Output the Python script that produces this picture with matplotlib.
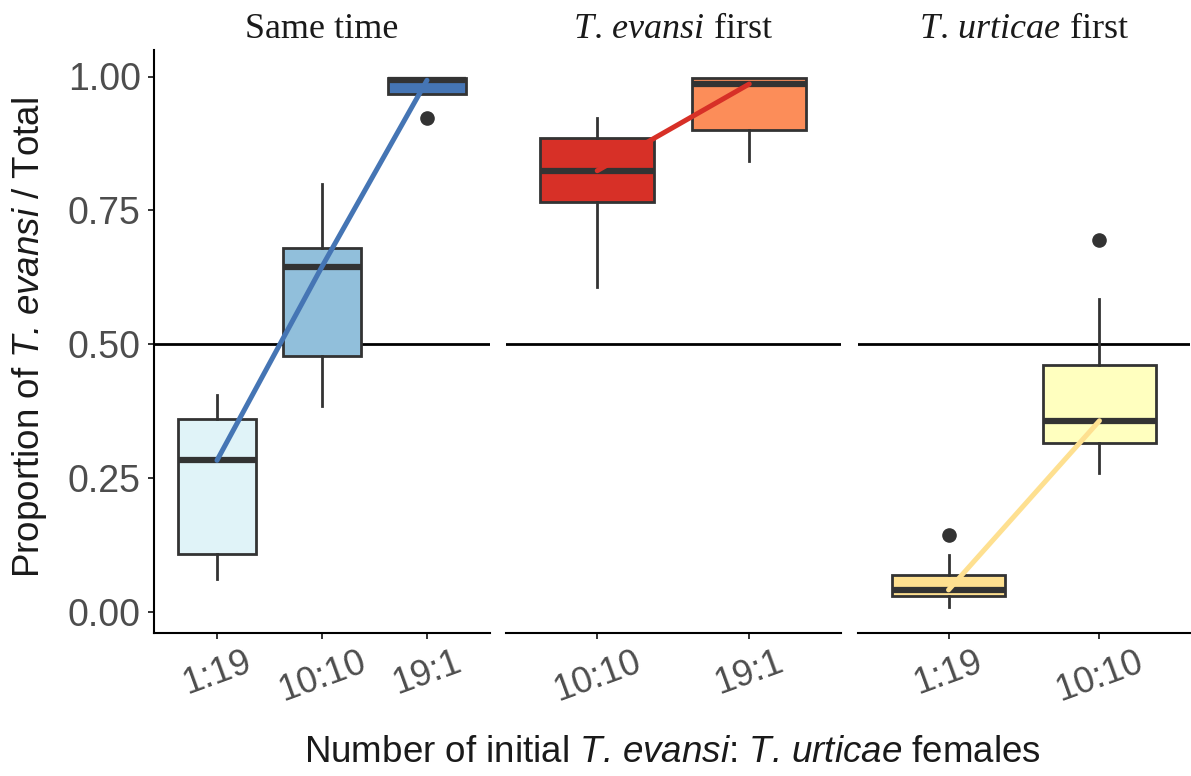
import matplotlib
matplotlib.use('Agg')
import matplotlib.pyplot as plt

plt.rcParams['mathtext.fontset'] = 'custom'
plt.rcParams['mathtext.it'] = 'Liberation Serif:italic'
plt.rcParams['mathtext.rm'] = 'Liberation Serif'
plt.rcParams['mathtext.sf'] = 'Liberation Sans:italic'
plt.rcParams['font.family'] = 'Liberation Sans'

# ---------------- data ----------------
strip_titles = ['Same time', r'$\mathit{T.\,evansi}$ first', r'$\mathit{T.\,urticae}$ first']

p1_labels = ['1:19', '10:10', '19:1']
p1_q1 = [0.109, 0.478, 0.967]
p1_med = [0.283, 0.645, 0.993]
p1_q3 = [0.361, 0.679, 0.997]
p1_whislo = [0.062, 0.384, 0.967]
p1_whishi = [0.405, 0.799, 0.997]
p1_fliers = [[], [], [0.922]]
p1_colors = ['#e0f3f8', '#91bfdb', '#4575b4']

p2_labels = ['10:10', '19:1']
p2_q1 = [0.766, 0.900]
p2_med = [0.824, 0.986]
p2_q3 = [0.886, 0.997]
p2_whislo = [0.606, 0.843]
p2_whishi = [0.922, 0.997]
p2_fliers = [[], []]
p2_colors = ['#d73027', '#fc8d59']

p3_labels = ['1:19', '10:10']
p3_q1 = [0.030, 0.315]
p3_med = [0.041, 0.357]
p3_q3 = [0.069, 0.461]
p3_whislo = [0.010, 0.260]
p3_whishi = [0.106, 0.584]
p3_fliers = [[0.143], [0.694]]
p3_colors = ['#fee090', '#ffffbf']

line_colors = ['#4575b4', '#d73027', '#fee090']

y_ticks = [0.0, 0.25, 0.5, 0.75, 1.0]
y_ticklabels = ['0.00', '0.25', '0.50', '0.75', '1.00']

panels = [
    (p1_labels, p1_q1, p1_med, p1_q3, p1_whislo, p1_whishi, p1_fliers, p1_colors),
    (p2_labels, p2_q1, p2_med, p2_q3, p2_whislo, p2_whishi, p2_fliers, p2_colors),
    (p3_labels, p3_q1, p3_med, p3_q3, p3_whislo, p3_whishi, p3_fliers, p3_colors),
]

# ---------------- figure ----------------
W, H = 1191, 776
fig = plt.figure(figsize=(W / 100, H / 100), dpi=100)

bottom = 1 - 633 / H
top = 1 - 50 / H
lefts = [154, 506, 858]
rights = [490, 840.5, 1190]

edge = '#333333'
axes = []
for i, (labels, q1, med, q3, wlo, whi, fl, cols) in enumerate(panels):
    l, r = lefts[i], rights[i]
    ax = fig.add_axes([l / W, bottom, (r - l) / W, top - bottom])
    axes.append(ax)
    n = len(labels)
    pos = list(range(1, n + 1))
    stats = []
    for j in range(n):
        stats.append(dict(q1=q1[j], med=med[j], q3=q3[j], whislo=wlo[j],
                          whishi=whi[j], fliers=fl[j], label=labels[j]))
    ax.axhline(0.5, color='black', lw=2.0, zorder=0.5)
    bp = ax.bxp(stats, positions=pos, widths=0.75, patch_artist=True,
                showcaps=False,
                boxprops=dict(edgecolor=edge, linewidth=2.0),
                medianprops=dict(color=edge, linewidth=4.5, solid_capstyle='butt'),
                whiskerprops=dict(color=edge, linewidth=2.0),
                flierprops=dict(marker='o', markerfacecolor=edge, markeredgecolor=edge,
                                markersize=9.5))
    for patch, c in zip(bp['boxes'], cols):
        patch.set_facecolor(c)
        patch.set_zorder(2)
    for m in bp['medians']:
        m.set_zorder(3)
    ax.plot(pos, med, color=line_colors[i], lw=3.6, solid_capstyle='round', zorder=5)

    ax.set_xlim(0.4, n + 0.6)
    ax.set_ylim(-0.0395, 1.0495)
    ax.set_xticks(pos)
    ax.set_xticklabels(labels, rotation=20, ha='center', va='top',
                       fontsize=26, color='#4d4d4d')
    for s in ['top', 'right']:
        ax.spines[s].set_visible(False)
    ax.spines['bottom'].set_linewidth(1.5)
    ax.spines['bottom'].set_color('black')
    ax.tick_params(axis='x', length=4.5, width=1.4, color=edge, pad=4)
    if i == 0:
        ax.spines['left'].set_linewidth(1.5)
        ax.spines['left'].set_color('black')
        ax.set_yticks(y_ticks)
        ax.set_yticklabels(y_ticklabels, fontsize=27, color='#4d4d4d')
        ax.tick_params(axis='y', length=4.5, width=1.4, color=edge, pad=5)
    else:
        ax.spines['left'].set_visible(False)
        ax.set_yticks([])
    ax.set_facecolor('white')
    cx = (l + r) / 2 / W
    fig.text(cx, 1 - 29 / H, strip_titles[i], ha='center', va='center',
             fontsize=26, family='Liberation Serif', color='#1a1a1a')

fig.text(30 / W, (bottom + top) / 2 + 0.005, r'Proportion of $\mathsf{T.\,evansi}$ / Total',
         rotation=90, ha='center', va='center', fontsize=26.5, color='#1a1a1a')
fig.text((154 + 1190) / 2 / W, 1 - 752 / H,
         r'Number of initial $\mathsf{T.\,evansi}$: $\mathsf{T.\,urticae}$ females',
         ha='center', va='center', fontsize=26.5, color='#1a1a1a')

fig.savefig('out.png', dpi=100, facecolor='white')
